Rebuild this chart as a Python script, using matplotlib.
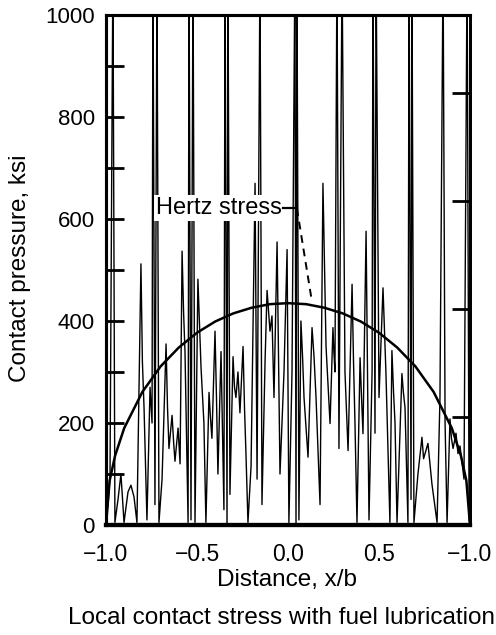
import matplotlib
matplotlib.use("Agg")
import matplotlib.pyplot as plt
from matplotlib.ticker import MultipleLocator, FuncFormatter

plt.rcParams['font.family'] = ['Liberation Sans', 'DejaVu Sans']
plt.rcParams['axes.unicode_minus'] = True

# ---- data -------------------------------------------------------------
# measured local contact pressure (ksi) along x/b; spikes above 1000 are clipped
x_local = [-1.000, -0.989, -0.978, -0.962, -0.951, -0.934, -0.918, -0.901, -0.879, -0.863,
           -0.846, -0.830, -0.808, -0.800, -0.791, -0.775, -0.758, -0.747, -0.742, -0.731,
           -0.720, -0.709, -0.692, -0.670, -0.662, -0.654, -0.637, -0.628, -0.621, -0.604,
           -0.593, -0.582, -0.574, -0.566, -0.549, -0.544, -0.533, -0.522, -0.511, -0.495,
           -0.486, -0.478, -0.462, -0.451, -0.434, -0.426, -0.418, -0.401, -0.393, -0.385,
           -0.368, -0.352, -0.346, -0.335, -0.330, -0.319, -0.302, -0.294, -0.286, -0.275,
           -0.264, -0.247, -0.239, -0.231, -0.220, -0.203, -0.181, -0.170, -0.154, -0.143,
           -0.126, -0.115, -0.099, -0.088, -0.077, -0.060, -0.044, -0.022, -0.005, 0.005,
           0.022, 0.038, 0.044, 0.049, 0.060, 0.071, 0.080, 0.088, 0.110, 0.132,
           0.143, 0.154, 0.176, 0.192, 0.209, 0.231, 0.247, 0.252, 0.258, 0.269,
           0.280, 0.297, 0.313, 0.330, 0.352, 0.360, 0.368, 0.379, 0.396, 0.404,
           0.412, 0.429, 0.445, 0.462, 0.467, 0.478, 0.484, 0.500, 0.522, 0.530,
           0.538, 0.560, 0.571, 0.580, 0.588, 0.599, 0.626, 0.634, 0.643, 0.659,
           0.665, 0.676, 0.681, 0.692, 0.714, 0.736, 0.745, 0.753, 0.769, 0.780,
           0.791, 0.819, 0.835, 0.852, 0.863, 0.874, 0.890, 0.898, 0.907, 0.923,
           0.934, 0.945, 0.967, 0.984, 0.995, 1.000]
p_local = [10, 40, 95, 1100, 5, 50, 100, 5, 65, 78,
           55, 5, 512, 320, 230, 10, 270, 200, 1100, 40,
           1100, 5, 90, 355, 230, 150, 215, 160, 125, 190,
           120, 537, 420, 340, 5, 1100, 10, 1100, 5, 482,
           390, 310, 200, 5, 260, 210, 170, 380, 250, 100,
           340, 30, 1100, 0, 1100, 60, 330, 270, 250, 300,
           220, 350, 230, 140, 5, 115, 670, 90, 1100, 40,
           322, 460, 380, 410, 250, 555, 100, 300, 540, 5,
           300, 1100, 0, 1100, 10, 400, 330, 250, 133, 387,
           330, 250, 40, 670, 350, 199, 387, 340, 300, 1100,
           150, 1100, 300, 146, 472, 320, 200, 5, 328, 250,
           179, 576, 10, 300, 1100, 180, 1100, 250, 465, 380,
           300, 5, 342, 260, 200, 5, 297, 260, 230, 5,
           1100, 50, 1100, 5, 100, 172, 130, 140, 160, 120,
           80, 5, 250, 1100, 200, 5, 208, 170, 150, 180,
           140, 155, 90, 1100, 10, 0]

# Hertz stress distribution
x_hertz = [-1.0, -0.98, -0.95, -0.9, -0.8, -0.7, -0.6, -0.5, -0.4, -0.3, -0.2, -0.1, 0.0,
           0.1, 0.2, 0.3, 0.4, 0.5, 0.6, 0.7, 0.8, 0.9, 0.95, 0.98, 1.0]
p_hertz = [0, 87, 136, 190, 261, 311, 348, 377, 399, 415, 426, 433, 435,
           433, 426, 415, 399, 377, 348, 311, 261, 190, 136, 87, 0]

x_ticks = [-1.0, -0.5, 0.0, 0.5, 1.0]
x_ticklabels = ['\u22121.0', '\u22120.5', '0.0', '0.5', '\u22121.0']
right_ticks = [212, 424, 636, 848]

# ---- figure -----------------------------------------------------------
W, H = 496, 635
fig = plt.figure(figsize=(W / 100, H / 100), dpi=100)
ax = fig.add_axes([106 / W, 1 - 525 / H, 364 / W, 510 / H])

ax.plot(x_local, p_local, color='black', lw=1.0, zorder=2)
ax.plot(x_hertz, p_hertz, color='black', lw=1.8, zorder=3)

ax.set_xlim(-1.0, 1.0)
ax.set_ylim(0, 1000)

# ticks
ax.set_xticks(x_ticks)
ax.set_xticklabels(x_ticklabels)
ax.tick_params(axis='x', length=0, pad=13, labelsize=16.5)
ax.yaxis.set_major_locator(MultipleLocator(100))
ax.yaxis.set_major_formatter(FuncFormatter(lambda v, pos: f"{int(round(v))}" if int(round(v)) % 200 == 0 else ""))
ax.tick_params(axis='y', direction='in', length=13, width=2, pad=8, labelsize=16)

ax2 = ax.twinx()
ax2.set_ylim(0, 1000)
ax2.set_yticks(right_ticks)
ax2.set_yticklabels([''] * len(right_ticks))
ax2.tick_params(axis='y', direction='in', length=13, width=2)

for a in (ax, ax2):
    a.spines['left'].set_linewidth(2.2)
    a.spines['right'].set_linewidth(2.0)
    a.spines['top'].set_linewidth(2.2)
    a.spines['bottom'].set_linewidth(3.0)

# Hertz stress label with leader
ax.text(-0.035, 621, 'Hertz stress', ha='right', va='center', fontsize=17,
        bbox=dict(facecolor='white', edgecolor='none', pad=1.5), zorder=5)
ax.plot([-0.025, 0.049], [621, 621], color='black', lw=1.6, zorder=6)
ax.plot([0.049, 0.132], [621, 437], color='black', lw=1.4, ls=(0, (4, 3)), zorder=6)

fig.text(20 / W, 1 - 268 / H, 'Contact pressure, ksi', rotation=90, ha='center', va='center', fontsize=17.5)
fig.text(287 / W, 1 - 580 / H, 'Distance, x/b', ha='center', va='center', fontsize=17.5)
fig.text(282 / W, 1 - 618 / H, 'Local contact stress with fuel lubrication', ha='center', va='center', fontsize=17.5)

fig.savefig('out.png', dpi=100)
